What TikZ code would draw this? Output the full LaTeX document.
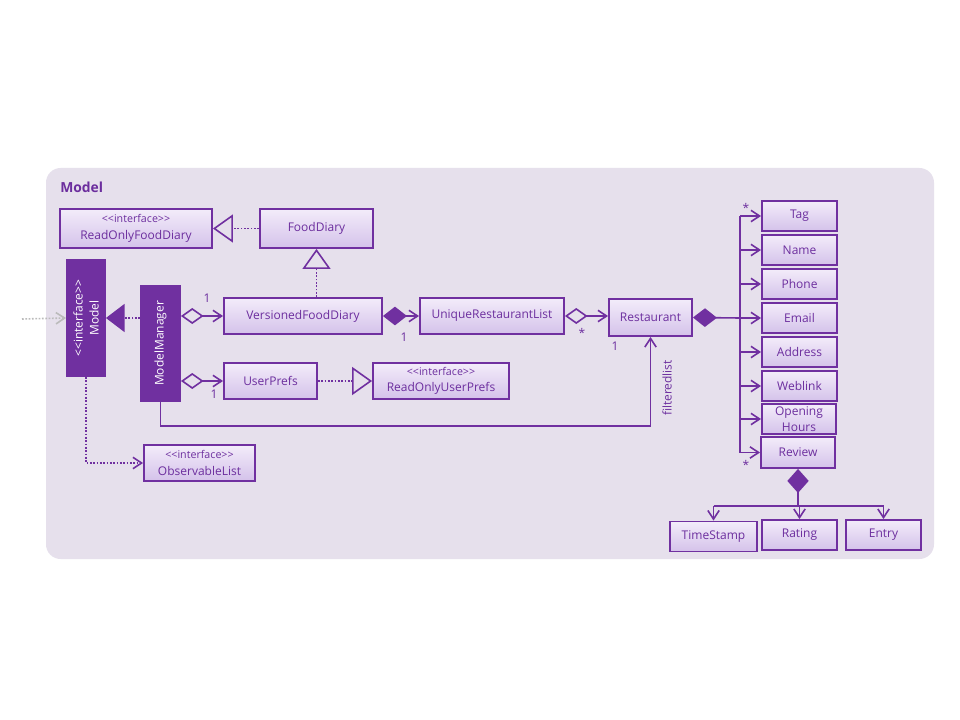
\documentclass[tikz,border=0pt]{standalone}
\usepackage{fontspec}
\setmainfont{Open Sans}
\usetikzlibrary{arrows.meta,positioning}
\definecolor{umlpurple}{HTML}{7030A0}
\definecolor{umltext}{HTML}{6C2E9E}
\definecolor{panelbg}{HTML}{E6E0EC}
\definecolor{boxtop}{HTML}{F3ECFA}
\definecolor{boxbot}{HTML}{D4C2EA}
\definecolor{extgrey}{HTML}{BBBBBB}
\newcommand{\stereo}{{\fontsize{8}{9}\selectfont <{}<interface>{}>}}
\tikzset{
  cls/.style 2 args={draw=umlpurple, line width=1.4pt, top color=boxtop, bottom color=boxbot,
    text=umltext, inner sep=0pt, align=center, minimum width=#1*0.75pt, minimum height=#2*0.75pt,
    font=\fontsize{9}{12.5}\selectfont},
  ifc/.style 2 args={draw=umlpurple, fill=umlpurple, line width=1.4pt, text=white, rotate=90,
    inner sep=0pt, align=center, minimum width=#1*0.75pt, minimum height=#2*0.75pt,
    font=\fontsize{9}{12}\selectfont},
  line/.style={draw=umlpurple, line width=1.2pt},
  dotline/.style={line, dash pattern=on 1.3pt off 1.2pt},
  open/.style={-{Straight Barb[length=6.5pt,width=8.5pt]}},
  agg/.style={{Diamond[open,length=17pt,width=12pt]}-{Straight Barb[length=6.5pt,width=8.5pt]}},
  comp/.style={{Diamond[fill=umlpurple,length=18pt,width=14pt]}-{Straight Barb[length=6.5pt,width=8.5pt]}},
  real/.style={dotline, -{Triangle[open,length=15pt,width=21pt]}},
  mult/.style={text=umltext, font=\fontsize{9}{10}\selectfont, inner sep=0pt}
}
\begin{document}
\begin{tikzpicture}[x=0.75pt,y=-0.75pt]
  \useasboundingbox (0,0) rectangle (960,720);
  \fill[white] (0,0) rectangle (960,720);
  \fill[panelbg, rounded corners=11pt] (46,168) rectangle (934,559);
  \node[anchor=west, text=umltext, font=\fontsize{10.4}{12}\selectfont\bfseries, inner sep=0pt] (title) at (60,187) {Model};

  % classes
  \node[cls={152}{39}] (rofd) at (136,228.5) {\stereo\\ReadOnlyFoodDiary};
  \node[cls={113}{39}] (fd) at (316.5,228.5) {FoodDiary};
  \node[ifc={116}{38}] (model) at (86,318) {<{}<interface>{}>\\Model};
  \node[ifc={115}{39}] (mm) at (160.5,343.5) {ModelManager};
  \node[cls={158}{36}] (vfd) at (303,316) {VersionedFoodDiary};
  \node[cls={144}{36}] (url) at (492,316) {UniqueRestaurantList};
  \node[cls={83}{37}] (rest) at (650.5,317.5) {Restaurant};
  \node[cls={93}{36}] (up) at (270.5,381) {UserPrefs};
  \node[cls={136}{36}] (roup) at (441,381) {\stereo\\ReadOnlyUserPrefs};
  \node[cls={111}{36}] (obs) at (199.5,463) {\stereo\\ObservableList};

  % restaurant fields
  \node[cls={75}{30}] (tag) at (799.5,216) {Tag};
  \node[cls={75}{30}] (name) at (799.5,250) {Name};
  \node[cls={75}{30}] (phone) at (799.5,284) {Phone};
  \node[cls={75}{30}] (email) at (799.5,318) {Email};
  \node[cls={75}{30}] (addr) at (799.5,352) {Address};
  \node[cls={75}{30}] (web) at (799.5,386) {Weblink};
  \node[cls={74}{30}, font=\fontsize{9}{12}\selectfont] (open) at (799,419) {Opening\\Hours};
  \node[cls={74}{31}] (rev) at (798,452.5) {Review};
  \node[cls={87}{30}] (ts) at (713.5,536.5) {TimeStamp};
  \node[cls={75}{30}] (rate) at (799.5,535) {Rating};
  \node[cls={75}{30}] (entry) at (883.5,535) {Entry};

  % realizations
  \draw[real] (fd.west) -- (rofd.east);
  \draw[real] (vfd.north -| fd.south) -- (fd.south);
  \draw[real] (up.east) -- (roup.west);
  \draw[dotline, -{Triangle[fill=umlpurple,length=14pt,width=21pt]}] (model.south -| mm.north) -- (model.south);
  \coordinate (ext) at (22,319);
  \draw[extgrey, line width=1.2pt, dash pattern=on 1.3pt off 1.2pt, open] (ext) -- (model.north);
  \draw[dotline, open] (model.west) |- (obs.west);

  % associations
  \draw[line, agg] (vfd.west -| mm.south) -- (vfd.west);
  \draw[line, agg] (up.west -| mm.south) -- (up.west);
  \draw[line, comp] (vfd.east) -- (url.west);
  \draw[line, agg] (url.east) -- (url.east -| rest.west);
  \coordinate (fl) at (650.5,426);
  \draw[line, open] (mm.west) |- (fl) -- (rest.south);
  \node[mult] at (207,298) {1};
  \node[mult] at (214,394) {1};
  \node[mult] at (404,337) {1};
  \node[mult] at (582,333) {*};
  \node[mult] at (615,346) {1};
  \node[mult, rotate=90] at (667,388) {filteredlist};

  % restaurant composition
  \coordinate (bus) at (740,318);
  \draw[line, {Diamond[fill=umlpurple,length=18pt,width=14pt]}-] (rest.east) -- (bus);
  \draw[line] (bus |- tag.west) -- (bus |- rev.west);
  \foreach \f in {tag,name,phone,email,addr,web,open,rev}
    \draw[line, open] (bus |- \f.west) -- (\f.west);
  \node[mult] at (746,208) {*};
  \node[mult] at (746,465) {*};

  % review composition
  \coordinate (rj) at (798,506);
  \draw[line, {Diamond[fill=umlpurple,length=18pt,width=16pt]}-] (rev.south) -- (rj);
  \draw[line] (ts.north |- rj) -- (entry.north |- rj);
  \foreach \f in {ts,rate,entry}
    \draw[line, open] (\f.north |- rj) -- (\f.north);
\end{tikzpicture}
\end{document}
